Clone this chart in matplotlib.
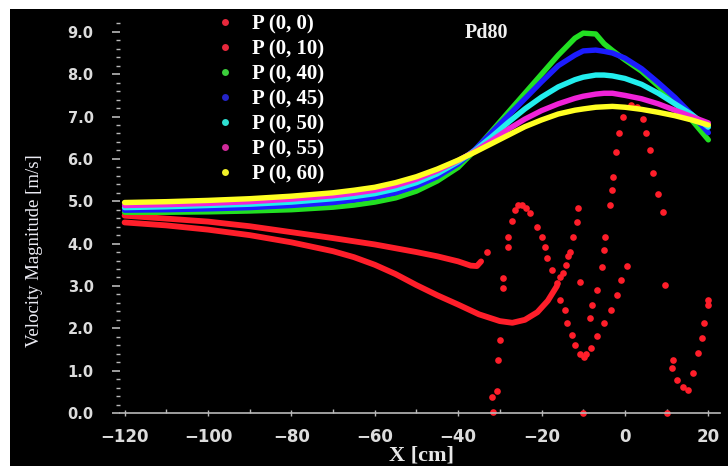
"""Velocity magnitude along X for probe lines P(0, z), case Pd80."""

import matplotlib
matplotlib.use("Agg")
import matplotlib.pyplot as plt
from matplotlib.lines import Line2D
from matplotlib.patches import Rectangle
from matplotlib.ticker import MultipleLocator, FormatStrFormatter

# smooth probe lines P(0,40) .. P(0,60)
x_smooth = [-120, -110, -100, -90, -80, -70, -65, -60, -55, -50, -45, -40, -36, -32,
            -28, -24, -20, -16, -12, -10, -7, -5, -3, 0, 4, 8, 12, 16, 20]
v_p40 = [4.74, 4.74, 4.75, 4.77, 4.80, 4.86, 4.91, 4.98, 5.08, 5.24, 5.48, 5.80, 6.20, 6.65,
         7.10, 7.55, 8.00, 8.45, 8.85, 8.97, 8.95, 8.72, 8.56, 8.34, 8.07, 7.72, 7.33, 6.92, 6.45]
v_p45 = [4.79, 4.80, 4.82, 4.85, 4.90, 4.97, 5.03, 5.10, 5.20, 5.36, 5.58, 5.88, 6.22, 6.62,
         7.02, 7.42, 7.82, 8.20, 8.45, 8.55, 8.57, 8.54, 8.50, 8.38, 8.13, 7.80, 7.45, 7.05, 6.62]
v_p50 = [4.85, 4.87, 4.90, 4.93, 4.98, 5.06, 5.11, 5.18, 5.29, 5.44, 5.65, 5.93, 6.20, 6.52,
         6.86, 7.18, 7.46, 7.70, 7.87, 7.93, 7.98, 7.98, 7.96, 7.90, 7.76, 7.55, 7.30, 7.05, 6.75]
v_p55 = [4.90, 4.92, 4.95, 4.99, 5.05, 5.13, 5.19, 5.26, 5.37, 5.52, 5.72, 5.96, 6.18, 6.43,
         6.70, 6.94, 7.14, 7.30, 7.43, 7.48, 7.53, 7.55, 7.55, 7.50, 7.42, 7.30, 7.15, 7.00, 6.85]
v_p60 = [4.97, 4.99, 5.02, 5.06, 5.12, 5.20, 5.26, 5.33, 5.44, 5.58, 5.76, 5.97, 6.16, 6.36,
         6.56, 6.76, 6.92, 7.06, 7.15, 7.18, 7.22, 7.23, 7.24, 7.22, 7.17, 7.10, 7.02, 6.92, 6.80]

# P(0,0): dense part then scattered samples
x_p0_line = [-120, -110, -100, -90, -80, -70, -60, -50, -45, -40, -37, -35.5, -34.5]
v_p0_line = [4.66, 4.59, 4.52, 4.41, 4.27, 4.13, 3.98, 3.80, 3.70, 3.58, 3.48, 3.47, 3.58]
x_p0_dots = [-33.1, -31.9, -31.6, -30.7, -30.4, -30.0, -29.2, -29.2, -28.0, -28.0,
             -27.1, -26.4, -25.6, -24.7, -23.8, -22.8, -21.1, -19.9, -19.2, -18.7,
             -17.5, -16.3, -15.6, -14.4, -13.9, -12.7, -12.0, -10.8, -9.8, -8.4,
             -7.9, -6.7, -5.5, -5.0, -4.7, -3.6, -3.2, -2.9, -2.2, -1.5, -0.5,
             1.5, 3.0, 4.3, 5.0, 5.9, 6.7, 7.9, 9.1, 9.6, 10.1, 11.3, 11.5, 12.5,
             13.9, 15.1, 16.3, 17.5, 18.5, 18.9, 19.9, 20.0]
v_p0_dots = [3.80, 0.38, 0.02, 0.52, 1.25, 1.72, 2.95, 3.19, 3.92, 4.16,
             4.53, 4.80, 4.90, 4.91, 4.85, 4.72, 4.39, 4.16, 3.92, 3.66,
             3.38, 3.07, 2.67, 2.43, 2.13, 1.84, 1.60, 1.40, 1.32, 2.24,
             2.55, 2.90, 3.45, 3.85, 4.16, 4.90, 5.27, 5.57, 6.17, 6.60, 7.00,
             7.28, 7.22, 6.95, 6.60, 6.20, 5.67, 5.17, 4.75, 3.02, 0.00, 1.06, 1.25, 0.78,
             0.61, 0.54, 0.94, 1.42, 1.77, 2.13, 2.55, 2.67]

# P(0,10): dense part then scattered samples
x_p10_line = [-120, -110, -100, -90, -80, -70, -65, -60, -55, -50, -45, -40, -35, -30,
              -27, -24, -21, -18.5, -16.3]
v_p10_line = [4.50, 4.43, 4.33, 4.20, 4.03, 3.82, 3.68, 3.50, 3.28, 3.02, 2.78, 2.56, 2.33,
              2.17, 2.13, 2.20, 2.38, 2.65, 3.00]
x_p10_dots = [-15.6, -14.9, -14.1, -13.7, -13.2, -12.5, -11.5, -11.3, -10.8, -10.1,
              -9.3, -8.2, -6.7, -5.0, -3.4, -1.9, -1.0, 0.5]
v_p10_dots = [3.20, 3.30, 3.50, 3.70, 3.80, 4.16, 4.50, 4.84, 3.10, 0.00,
              1.40, 1.54, 1.82, 2.13, 2.43, 2.79, 3.14, 3.47]

labels = ["P (0, 0)", "P (0, 10)", "P (0, 40)", "P (0, 45)", "P (0, 50)",
          "P (0, 55)", "P (0, 60)"]
legend_colors = ["#e8283c", "#e8283c", "#3ccf3c", "#2424c8", "#2ee0d2", "#d02a9a", "#f0f028"]

RED = "#ff1e2a"
smooth_series = [
    (v_p40, "#22e022"),
    (v_p45, "#1c1cff"),
    (v_p50, "#22eeee"),
    (v_p55, "#f022d8"),
    (v_p60, "#ffff22"),
]

fig = plt.figure(figsize=(7.28, 4.66), dpi=100, facecolor="black")
# white strips along the top and left edge of the original image
fig.patches.append(Rectangle((0, 1 - 9 / 466), 1, 9 / 466, transform=fig.transFigure,
                             facecolor="white", edgecolor="none", zorder=10))
fig.patches.append(Rectangle((0, 0), 10 / 728, 1, transform=fig.transFigure,
                             facecolor="white", edgecolor="none", zorder=10))
ax = fig.add_axes([120 / 728, 53 / 466, 600 / 728, 393 / 466])
ax.set_facecolor("black")

ax.plot(x_p0_line, v_p0_line, color=RED, lw=4.2, solid_capstyle="round",
        solid_joinstyle="round", zorder=2)
ax.plot(x_p10_line, v_p10_line, color=RED, lw=4.2, solid_capstyle="round",
        solid_joinstyle="round", zorder=2)
ax.plot(x_p0_dots, v_p0_dots, "o", color=RED, ms=4.8, mec="none", zorder=2, clip_on=False)
ax.plot(x_p10_dots, v_p10_dots, "o", color=RED, ms=4.8, mec="none", zorder=2, clip_on=False)

for i, (vals, col) in enumerate(smooth_series):
    ax.plot(x_smooth, vals, color=col, lw=3.9, solid_capstyle="round",
            solid_joinstyle="round", zorder=3 + i)

ax.set_xlim(-121.1, 22.8)
ax.set_ylim(0, 9.28)

for side in ["top", "right", "left"]:
    ax.spines[side].set_visible(False)
ax.spines["bottom"].set_color("#b8b8b8")
ax.spines["bottom"].set_linewidth(1.2)

ax.xaxis.set_major_locator(MultipleLocator(20))
ax.xaxis.set_minor_locator(MultipleLocator(10))
ax.yaxis.set_major_locator(MultipleLocator(1))
ax.yaxis.set_minor_locator(MultipleLocator(0.2))
ax.yaxis.set_major_formatter(FormatStrFormatter("%.1f"))

ax.tick_params(axis="x", which="major", direction="inout", length=5, width=1,
               color="#b8b8b8", labelcolor="#dcdcdc", labelsize=12, pad=8)
ax.tick_params(axis="x", which="minor", direction="in", length=3, width=1, color="#b8b8b8")
ax.tick_params(axis="y", which="major", direction="out", length=6, width=1.2,
               color="#b8b8b8", labelcolor="#dcdcdc", labelsize=10.5, pad=13)
ax.tick_params(axis="y", which="minor", direction="out", length=3, width=1, color="#b8b8b8")
for lab in ax.get_xticklabels() + ax.get_yticklabels():
    lab.set_fontweight("bold")

ax.set_xlabel("X [cm]", family="Liberation Serif", fontweight="bold", fontsize=16,
              color="#e8e8e8")
ax.xaxis.set_label_coords(0.503, -0.083)
ax.set_ylabel("Velocity Magnitude [m/s]", family="Liberation Serif", fontsize=13.5,
              color="#ececf4")
ax.yaxis.set_label_coords(-0.128, 0.412)

ax.text(-33.3, 8.98, "Pd80", family="Liberation Serif", fontweight="bold", fontsize=14.5,
        color="#f0f0f0", ha="center", va="center")

handles = [Line2D([], [], ls="none", marker="o", ms=5, mec="none", color=c)
           for c in legend_colors]
leg = ax.legend(handles, labels, loc="upper left", bbox_to_anchor=(0.158, 1.015),
                frameon=False, borderaxespad=0, borderpad=0, handlelength=1.0,
                handletextpad=0.8, labelspacing=0.24,
                prop={"family": "Liberation Serif", "weight": "bold", "size": 15})
for t in leg.get_texts():
    t.set_color("white")

fig.savefig("out.png", dpi=100, facecolor=fig.get_facecolor())
